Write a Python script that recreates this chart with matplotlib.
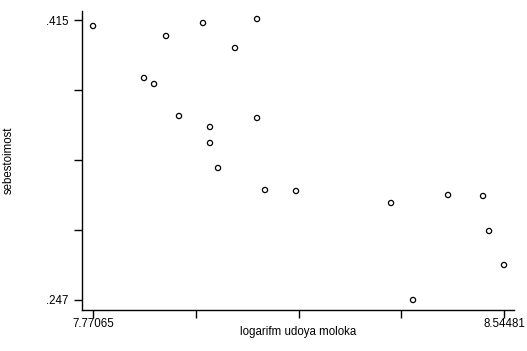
import matplotlib
matplotlib.use("Agg")
import matplotlib.pyplot as plt
import numpy as np

plt.rcParams['font.family'] = ['Liberation Sans', 'DejaVu Sans']

log_milk_yield = [7.7707, 7.9082, 7.9778, 8.0796, 8.0381, 7.8667, 7.8856, 7.9326,
                  7.9910, 8.0796, 7.9910, 8.0061, 8.0946, 8.1530, 8.3320, 8.4394,
                  8.5053, 8.5166, 8.5448, 8.3734]
cost = [0.4114, 0.4054, 0.4132, 0.4156, 0.3982, 0.3802, 0.3766, 0.3574,
        0.3508, 0.3562, 0.3412, 0.3262, 0.3130, 0.3124, 0.3052, 0.3100,
        0.3094, 0.2884, 0.2680, 0.2470]

x_ticks = [7.77065, 7.964190, 8.15773, 8.351270, 8.54481]
x_tick_labels = ['7.77065', '', '', '', '8.54481']
y_ticks = [0.415, 0.373, 0.331, 0.289, 0.247]
y_tick_labels = ['.415', '', '', '', '.247']

fig = plt.figure(figsize=(5.27, 3.51), dpi=100)
ax = fig.add_axes([82/527, 41/351, (514-82)/527, (310-11)/351])

ax.scatter(log_milk_yield, cost, s=14, facecolors='none', edgecolors='black',
           linewidths=0.9, zorder=3)

ax.set_xlim(7.7499, 8.5636)
ax.set_ylim(0.241, 0.4204)

ax.set_xticks(x_ticks)
ax.set_xticklabels(x_tick_labels)
ax.set_yticks(y_ticks)
ax.set_yticklabels(y_tick_labels)

for s in ['top', 'right']:
    ax.spines[s].set_visible(False)
for s in ['left', 'bottom']:
    ax.spines[s].set_linewidth(1.0)
    ax.spines[s].set_color('black')

ax.tick_params(axis='both', direction='out', length=6, width=1.0,
               labelsize=8.3, colors='black')
ax.tick_params(axis='x', pad=0)
ax.tick_params(axis='y', pad=4)

ax.set_xlabel('logarifm udoya moloka', fontsize=8.3, va='center')
ax.xaxis.set_label_coords(0.5, (310-332)/299)
ax.set_ylabel('sebestoimost', fontsize=8.3, va='center')
ax.yaxis.set_label_coords((9-82)/432, 0.5)

fig.savefig('out.png', dpi=100)
